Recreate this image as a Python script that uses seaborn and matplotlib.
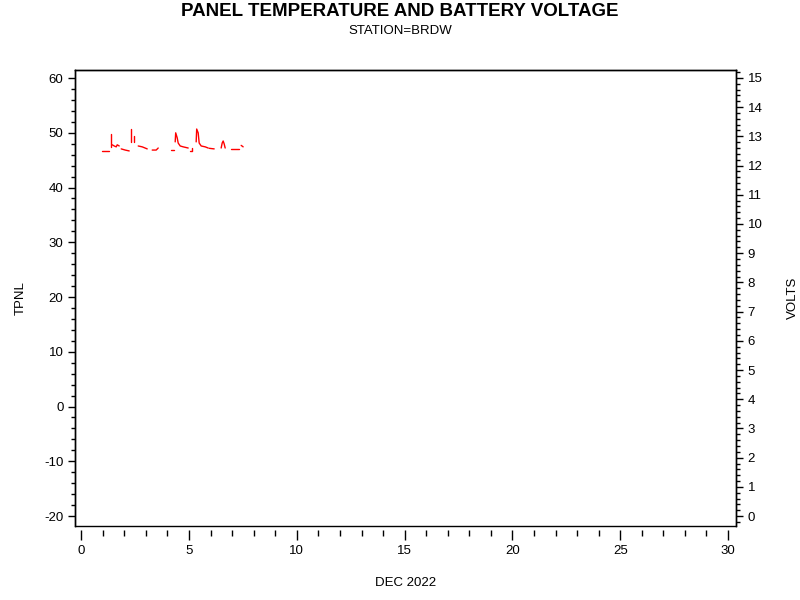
import pandas as pd
import matplotlib.pyplot as plt
import matplotlib.ticker as mticker
import seaborn as sns
import numpy as np

# battery voltage trace; seg marks the broken pieces
day = [0.974, 1.298,
       1.368, 1.368,
       1.437, 1.530, 1.623, 1.669, 1.762,
       1.854, 2.040, 2.225,
       2.304, 2.304,
       2.457, 2.457,
       2.643, 2.828, 3.060,
       3.292, 3.477, 3.570,
       4.172, 4.312,
       4.358, 4.381, 4.451, 4.497, 4.590, 4.729, 4.961,
       5.053, 5.146, 5.146,
       5.331, 5.355, 5.424, 5.471, 5.563, 5.749, 5.888,
       5.934, 6.166,
       6.490, 6.537, 6.583, 6.630, 6.676,
       6.954, 7.325,
       7.418, 7.510]
volts = [12.50, 12.50,
         12.64, 13.08,
         12.71, 12.67, 12.64, 12.71, 12.67,
         12.57, 12.53, 12.50,
         12.81, 13.25,
         12.81, 13.01,
         12.67, 12.64, 12.57,
         12.53, 12.53, 12.60,
         12.52, 12.52,
         12.81, 13.12, 12.95, 12.77, 12.67, 12.64, 12.60,
         12.50, 12.50, 12.60,
         12.81, 13.25, 13.12, 12.77, 12.67, 12.64, 12.60,
         12.59, 12.57,
         12.60, 12.77, 12.84, 12.74, 12.60,
         12.57, 12.57,
         12.69, 12.64]
seg = [1]*2 + [2]*2 + [3]*5 + [4]*3 + [5]*2 + [6]*2 + [7]*3 + [8]*3 + [9]*2 + [10]*7 + \
      [11]*3 + [12]*7 + [13]*2 + [14]*5 + [15]*2 + [16]*2

df = pd.DataFrame({'day': day, 'volts': volts, 'seg': seg})

sns.set_style('ticks')
plt.rcParams['font.family'] = ['Liberation Sans', 'DejaVu Sans']
plt.rcParams['axes.unicode_minus'] = False
plt.rcParams['text.color'] = 'black'

fig = plt.figure(figsize=(8, 6), dpi=100)
ax = fig.add_axes([0.094, 0.1233, 0.826, 0.76])
ax2 = ax.twinx()

sns.lineplot(data=df, x='day', y='volts', units='seg', estimator=None,
             color='red', lw=1, ax=ax2, legend=False)

ax.set_xlim(-0.28, 30.37)
ax.set_ylim(-21.83, 61.46)
ax2.set_ylim(-0.34, 15.27)

ax.xaxis.set_major_locator(mticker.MultipleLocator(5))
ax.xaxis.set_minor_locator(mticker.MultipleLocator(1))
ax.yaxis.set_major_locator(mticker.MultipleLocator(10))
ax.yaxis.set_minor_locator(mticker.MultipleLocator(2))
ax2.yaxis.set_major_locator(mticker.MultipleLocator(1))
ax2.yaxis.set_minor_locator(mticker.MultipleLocator(0.2))

for a in (ax, ax2):
    for s in a.spines.values():
        s.set_color('black')
        s.set_linewidth(1)
    a.tick_params(which='major', length=5, width=1, color='black', labelsize=9.5, labelcolor='black')
    a.tick_params(which='minor', length=3, width=1, color='black')
    a.grid(False)

# x axis ticks hang a little below the frame
ax.spines['bottom'].set_position(('outward', 3))
ax.spines['bottom'].set_visible(False)
ax2.spines['bottom'].set_visible(False)
ax.plot([0, 1], [0, 0], transform=ax.transAxes, color='black', lw=1, clip_on=False)
ax.tick_params(axis='x', which='major', length=7, pad=4)
ax.tick_params(axis='x', which='minor', length=4)

ax.set_xlabel('DEC 2022', fontsize=9.5, color='black')
ax.set_ylabel('TPNL', fontsize=9.5, color='black')
ax2.set_ylabel('VOLTS', fontsize=9.5, color='black')
ax.xaxis.set_label_coords(0.5, -0.1118)
ax.yaxis.set_label_coords(-0.074, 0.5)
ax2.yaxis.set_label_coords(1.077, 0.5)

fig.text(0.5, 0.980, 'PANEL TEMPERATURE AND BATTERY VOLTAGE', ha='center', va='center',
         fontsize=13.5, fontweight='bold')
fig.text(0.5, 0.949, 'STATION=BRDW', ha='center', va='center', fontsize=9.5)

fig.savefig('out.png', dpi=100)
